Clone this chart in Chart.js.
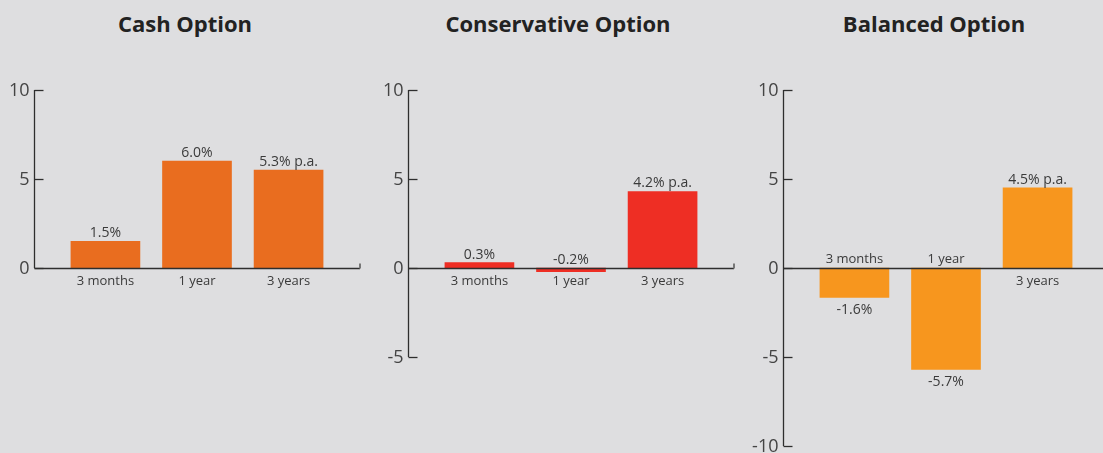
<!DOCTYPE html>
<html>
<head>
<meta charset="utf-8">
<script src="https://cdn.jsdelivr.net/npm/chart.js@4.4.1/dist/chart.umd.min.js"></script>
<style>
  body { margin: 0; background: #dedee0; width: 1103px; height: 453px; overflow: hidden; position: relative; font-family: "Open Sans", sans-serif; }
  canvas { position: absolute; top: 0; }
  .title { position: absolute; top: 8px; width: 300px; text-align: center; font-weight: bold; font-size: 22px; line-height: 30px; color: #222; }
</style>
</head>
<body>

<div class="title" style="left:35px">Cash Option</div>
<div class="title" style="left:408px">Conservative Option</div>
<div class="title" style="left:784px">Balanced Option</div>

<canvas id="cash" width="366" height="453" style="left:0px"></canvas>
<canvas id="conservative" width="372" height="453" style="left:368px"></canvas>
<canvas id="balanced" width="380" height="453" style="left:735px"></canvas>

<script>
let categories = ['3 months', '1 year', '3 years'];

let cashValues = [1.5, 6.0, 5.5];
let cashLabels = ['1.5%', '6.0%', '5.3% p.a.'];

let conservativeValues = [0.3, -0.2, 4.3];
let conservativeLabels = ['0.3%', '-0.2%', '4.2% p.a.'];

let balancedValues = [-1.65, -5.7, 4.5];
let balancedLabels = ['-1.6%', '-5.7%', '4.5% p.a.'];

// eixo y de cada painel
let cashRange = [0, 10];
let conservativeRange = [-5, 10];
let balancedRange = [-10, 10];

function line(ctx, x1, y1, x2, y2) {
    ctx.beginPath();
    ctx.moveTo(x1, y1);
    ctx.lineTo(x2, y2);
    ctx.stroke();
}

// desenha eixos, ticks e rotulos por cima das barras
let axesPlugin = {
    id: 'axes',
    afterDatasetsDraw(chart) {
        let ctx = chart.ctx;
        let xs = chart.scales.x;
        let ys = chart.scales.y;
        let area = chart.chartArea;
        let ax = Math.round(area.left) + 0.5;
        let zero = Math.round(ys.getPixelForValue(0)) + 0.5;

        ctx.save();
        ctx.strokeStyle = '#2e2e2e';
        ctx.lineWidth = 1.3;
        line(ctx, ax, area.top, ax, area.bottom);

        ctx.font = '18px "Open Sans"';
        ctx.fillStyle = '#444';
        ctx.textAlign = 'right';
        ctx.textBaseline = 'middle';
        ys.ticks.forEach(t => {
            let py = Math.round(ys.getPixelForValue(t.value)) + 0.5;
            line(ctx, ax, py, ax + 9, py);
            ctx.fillText(String(t.value), ax - 5, py);
        });

        line(ctx, ax, zero, area.right, zero);
        ctx.strokeStyle = '#777';
        ctx.lineWidth = 2;
        line(ctx, area.right, zero, area.right, zero - 5);

        let opt = chart.options.plugins.axes;
        ctx.textAlign = 'center';
        ctx.fillStyle = '#3a3a3a';
        opt.values.forEach((v, i) => {
            let px = xs.getPixelForValue(i + 1);
            let py = ys.getPixelForValue(v);
            let flip = v < -1;
            ctx.font = '14px "Open Sans"';
            if (flip) {
                ctx.fillText(opt.labels[i], px, py + 12.5);
            } else {
                ctx.fillText(opt.labels[i], px, Math.min(py, zero) - 8);
            }
            ctx.font = '13px "Open Sans"';
            ctx.fillText(categories[i], px, flip ? zero - 9.5 : zero + 12.5);
        });
        ctx.restore();
    }
};

function drawPanel(id, values, labels, range, color, padLeft) {
    let canvas = document.getElementById(id);
    let bottomPx = 90 + (range[1] - range[0]) * 17.8;

    new Chart(canvas, {
        type: 'bar',
        data: {
            datasets: [{
                data: categories.map((c, i) => ({ x: i + 1, y: values[i] })),
                backgroundColor: color,
                barThickness: 69
            }]
        },
        options: {
            responsive: false,
            animation: false,
            layout: {
                padding: { left: padLeft, right: canvas.width - padLeft - 326, top: 90, bottom: 453 - bottomPx }
            },
            scales: {
                x: { type: 'linear', display: false, min: 0.22, max: 3.78, offset: false },
                y: { display: false, min: range[0], max: range[1], ticks: { stepSize: 5 } }
            },
            plugins: {
                legend: { display: false },
                tooltip: { enabled: false },
                axes: { values: values, labels: labels }
            }
        },
        plugins: [axesPlugin]
    });
}

drawPanel('cash', cashValues, cashLabels, cashRange, '#e96d1f', 34);
drawPanel('conservative', conservativeValues, conservativeLabels, conservativeRange, '#ee2e24', 40);
drawPanel('balanced', balancedValues, balancedLabels, balancedRange, '#f7961e', 48);
</script>
</body>
</html>
